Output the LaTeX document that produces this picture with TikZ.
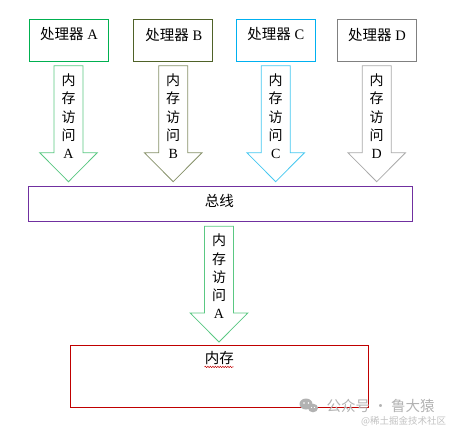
\documentclass[tikz,border=0pt]{standalone}
\usepackage{fontspec}
\setmainfont{Liberation Serif}
\newfontfamily\cjk{Noto Sans CJK SC}
\usetikzlibrary{decorations.pathmorphing}
\definecolor{cA}{RGB}{0,176,80}
\definecolor{aA}{RGB}{90,200,130}
\definecolor{cB}{RGB}{79,98,40}
\definecolor{aB}{RGB}{135,145,105}
\definecolor{cC}{RGB}{0,176,240}
\definecolor{aC}{RGB}{70,200,240}
\definecolor{cD}{RGB}{128,128,128}
\definecolor{aD}{RGB}{170,170,170}
\definecolor{cBus}{RGB}{112,48,160}
\definecolor{cMem}{RGB}{192,0,0}
\definecolor{wm}{RGB}{178,178,178}
\tikzset{
  proc/.style={draw=#1, line width=0.9pt, minimum width=79pt, minimum height=42pt, inner sep=0},
  barrow/.style={draw=#1, line width=0.8pt, fill=white, line join=miter},
  vlabel/.style={align=center, font=\fontsize{14}{18.2}\selectfont, inner sep=0},
  btext/.style={font=\fontsize{14.5}{16}\selectfont, inner sep=0},
}
\newcommand{\blockarr}[6]{% cx, top, headY, tip, color, name
  \draw[barrow=#5] (#1-14.5,#2) coordinate (#6top) -- (#1+14.5,#2) -- (#1+14.5,#3) -- (#1+28.8,#3)
    -- (#1,#4) coordinate (#6tip) -- (#1-28.8,#3) -- (#1-14.5,#3) -- cycle;
}
\begin{document}
\begin{tikzpicture}[x=1pt,y=-1pt]
\useasboundingbox (0,0) rectangle (451,429);
% processor boxes
\node[proc=cA] (pA) at (68.5,40.2) {};
\node[proc=cB] (pB) at (173.3,40.6) {};
\node[proc=cC] (pC) at (275.8,40.2) {};
\node[proc=cD] (pD) at (377,40.6) {};
\node[btext] (tA) at (69,34.2) {{\cjk 处理器} A};
\node[btext] (tB) at (173.8,34.6) {{\cjk 处理器} B};
\node[btext] (tC) at (275.8,34.2) {{\cjk 处理器} C};
\node[btext] (tD) at (377,34.6) {{\cjk 处理器} D};
% bus and memory
\node[draw=cBus, line width=0.9pt, minimum width=384.4pt, minimum height=35.3pt, inner sep=0] (bus) at (220.5,203.6) {};
\node[btext] (busT) at (219.3,201) {\cjk 总线};
\node[draw=cMem, line width=0.9pt, minimum width=298.4pt, minimum height=62.3pt, inner sep=0] (mem) at (219.5,376.2) {};
\node[btext] (memT) at (219.3,358.5) {\cjk 内存};
\draw[cMem, line width=0.5pt, decorate, decoration={snake, amplitude=0.7pt, segment length=2.5pt}] (memT.south west) ++(0,1.5) -- ++(29,0);
% block arrows
\blockarr{68.5}{65.7}{152.7}{181.7}{aA}{arA}
\blockarr{173.2}{65.7}{152.7}{181.7}{aB}{arB}
\blockarr{275.7}{65.7}{152.7}{181.7}{aC}{arC}
\blockarr{376.7}{65.7}{152.7}{181.7}{aD}{arD}
\blockarr{219.0}{226.3}{313}{342}{aA}{arM}
\node[vlabel] (lA) at (68.5,116.3) {{\cjk 内}\\{\cjk 存}\\{\cjk 访}\\{\cjk 问}\\A};
\node[vlabel] (lB) at (173.2,116.3) {{\cjk 内}\\{\cjk 存}\\{\cjk 访}\\{\cjk 问}\\B};
\node[vlabel] (lC) at (275.7,116.3) {{\cjk 内}\\{\cjk 存}\\{\cjk 访}\\{\cjk 问}\\C};
\node[vlabel] (lD) at (376.7,116.3) {{\cjk 内}\\{\cjk 存}\\{\cjk 访}\\{\cjk 问}\\D};
\node[vlabel] (lM) at (219.0,276.5) {{\cjk 内}\\{\cjk 存}\\{\cjk 访}\\{\cjk 问}\\A};
% watermark
\fill[wm] (306,404) ellipse (6.5pt and 5.5pt);
\fill[wm] (313,408) ellipse (5pt and 4.3pt);
\fill[white] (304,403) circle (0.9pt) (308.5,403) circle (0.9pt) (311.5,407.5) circle (0.7pt) (314.5,407.5) circle (0.7pt);
\node[font=\cjk\fontsize{14.5}{16}\selectfont, text=wm, inner sep=0, anchor=west] (wm1) at (326.5,406) {公众号 · 鲁大猿};
\node[font=\cjk\fontsize{9.5}{10}\selectfont, text=wm!80, inner sep=0, anchor=west] (wm2) at (361,421.5) {@稀土掘金技术社区};
\end{tikzpicture}
\end{document}
